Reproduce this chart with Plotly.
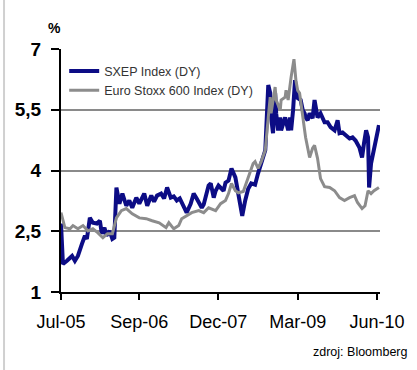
import plotly.graph_objects as go

# ---- data ----
sxep_dates = [
    "2005-07-01", "2005-07-12", "2005-08-04", "2005-09-02", "2005-09-18", "2005-10-05",
    "2005-10-28", "2005-11-14", "2005-11-25", "2005-12-12", "2005-12-29", "2006-01-21",
    "2006-02-07", "2006-02-18", "2006-03-05", "2006-03-16", "2006-04-03", "2006-04-19",
    "2006-04-30", "2006-05-12", "2006-05-29", "2006-06-15", "2006-07-07", "2006-07-24",
    "2006-08-10", "2006-09-02", "2006-09-19", "2006-10-17", "2006-11-03", "2006-11-26",
    "2006-12-12", "2006-12-29", "2007-01-21", "2007-02-07", "2007-02-24", "2007-03-17",
    "2007-04-03", "2007-04-20", "2007-05-07", "2007-05-29", "2007-06-15", "2007-07-08",
    "2007-07-25", "2007-08-11", "2007-09-09", "2007-09-20", "2007-10-07", "2007-10-18",
    "2007-10-30", "2007-11-16", "2007-11-27", "2007-12-13", "2008-01-11", "2008-01-22",
    "2008-02-08", "2008-02-25", "2008-03-18", "2008-04-04", "2008-04-15", "2008-04-26",
    "2008-05-13", "2008-05-30", "2008-06-16", "2008-07-08", "2008-07-25", "2008-08-12",
    "2008-09-04", "2008-09-10", "2008-09-21", "2008-10-02", "2008-10-07", "2008-10-18",
    "2008-10-30", "2008-11-05", "2008-11-16", "2008-11-28", "2008-12-03", "2008-12-26",
    "2009-01-12", "2009-01-23", "2009-01-29", "2009-02-09", "2009-02-20", "2009-02-25",
    "2009-03-07", "2009-03-24", "2009-04-05", "2009-04-16", "2009-04-21", "2009-05-03",
    "2009-05-14", "2009-05-31", "2009-06-11", "2009-06-28", "2009-07-15", "2009-08-07",
    "2009-08-24", "2009-09-10", "2009-10-03", "2009-10-20", "2009-10-31", "2009-11-17",
    "2009-12-04", "2009-12-27", "2010-01-13", "2010-01-30", "2010-02-21", "2010-03-08",
    "2010-03-19", "2010-03-31", "2010-04-11", "2010-04-17", "2010-04-28", "2010-05-15",
    "2010-05-26", "2010-06-12",
]
sxep_values = [
    2.69, 1.69, 1.77, 1.89, 1.77, 1.89,
    2.19, 2.39, 2.31, 2.83, 2.71, 2.69,
    2.76, 2.44, 2.59, 2.39, 2.51, 2.31,
    2.34, 3.58, 3.18, 3.43, 3.13, 3.26,
    3.08, 3.33, 3.18, 3.43, 3.13, 3.38,
    3.23, 3.38, 3.43, 3.31, 3.58, 3.33,
    3.36, 3.26, 3.31, 3.13, 2.96, 3.18,
    3.43, 3.31, 3.08, 3.16, 3.43, 3.63,
    3.68, 3.33, 3.50, 3.63, 3.50, 3.70,
    3.75, 4.05, 3.83, 3.43, 3.08, 2.88,
    3.26, 3.55, 3.68, 3.65, 3.93, 4.20,
    4.50, 5.07, 6.11, 5.91, 5.31, 4.92,
    5.91, 5.41, 4.99, 5.31, 4.99, 5.31,
    4.99, 5.31, 4.99, 5.49, 6.23, 5.98,
    5.79, 5.74, 5.49, 5.41, 5.31, 5.24,
    5.41, 5.29, 5.74, 5.31, 5.41, 5.19,
    5.19, 5.07, 4.99, 5.24, 4.92, 4.94,
    4.87, 4.79, 4.82, 4.74, 4.57, 4.32,
    4.67, 4.99, 4.82, 3.58, 4.17, 4.57,
    4.82, 5.12,
]

stoxx_dates = [
    "2005-07-01", "2005-07-23", "2005-08-21", "2005-09-07", "2005-10-05", "2005-11-03",
    "2005-12-01", "2005-12-29", "2006-01-27", "2006-02-24", "2006-03-22", "2006-04-19",
    "2006-05-12", "2006-06-09", "2006-07-07", "2006-08-10", "2006-09-19", "2006-10-28",
    "2006-12-01", "2007-01-10", "2007-02-18", "2007-03-06", "2007-04-03", "2007-05-01",
    "2007-05-18", "2007-06-15", "2007-07-14", "2007-08-23", "2007-09-20", "2007-10-18",
    "2007-11-27", "2007-12-25", "2008-01-22", "2008-02-08", "2008-02-25", "2008-03-18",
    "2008-04-04", "2008-05-02", "2008-05-19", "2008-06-10", "2008-06-27", "2008-07-08",
    "2008-07-25", "2008-08-12", "2008-09-04", "2008-09-21", "2008-10-02", "2008-10-07",
    "2008-10-30", "2008-11-05", "2008-11-28", "2008-12-03", "2008-12-26", "2008-12-31",
    "2009-01-12", "2009-01-29", "2009-02-14", "2009-02-25", "2009-03-07", "2009-03-18",
    "2009-04-05", "2009-04-21", "2009-05-14", "2009-05-31", "2009-06-11", "2009-06-28",
    "2009-07-15", "2009-08-07", "2009-09-05", "2009-10-03", "2009-10-31", "2009-11-28",
    "2009-12-27", "2010-01-24", "2010-02-10", "2010-03-08", "2010-03-25", "2010-04-11",
    "2010-04-28", "2010-05-15", "2010-06-12",
]
stoxx_values = [
    2.96, 2.59, 2.56, 2.64, 2.56, 2.64,
    2.51, 2.56, 2.46, 2.34, 2.44, 2.44,
    2.83, 3.01, 3.06, 2.93, 2.83, 2.81,
    2.76, 2.71, 2.59, 2.71, 2.56, 2.64,
    2.81, 2.88, 2.96, 3.01, 2.96, 3.08,
    3.01, 3.18, 3.26, 3.43, 3.68, 3.50,
    3.45, 3.48, 3.70, 4.00, 4.17, 4.22,
    4.05, 4.22, 4.50, 5.31, 5.81, 5.41,
    6.06, 5.74, 5.49, 5.74, 5.81, 5.98,
    5.74, 6.31, 6.75, 6.23, 5.98, 5.91,
    5.31, 4.82, 4.32, 4.55, 4.62, 4.30,
    3.80, 3.60, 3.58, 3.50, 3.33, 3.26,
    3.33, 3.38, 3.21, 3.06, 3.13, 3.50,
    3.43, 3.50, 3.58,
]

series_names = ["SXEP Index (DY)", "Euro Stoxx 600 Index (DY)"]
x_tick_dates = ["2005-07-01", "2006-09-19", "2007-12-12", "2009-03-07", "2010-06-01"]
x_tick_labels = ["Jul-05", "Sep-06", "Dec-07", "Mar-09", "Jun-10"]
y_tick_vals = [1, 2.5, 4, 5.5, 7]
y_tick_labels = ["1", "2,5", "4", "5,5", "7"]
source_text = "zdroj: Bloomberg"
unit_text = "%"

FONT = "Liberation Sans, Arial, sans-serif"

fig = go.Figure()
fig.add_trace(go.Scatter(
    x=sxep_dates, y=sxep_values, name=series_names[0], mode="lines",
    line=dict(color="#0c0c85", width=4), hoverinfo="skip",
))
fig.add_trace(go.Scatter(
    x=stoxx_dates, y=stoxx_values, name=series_names[1], mode="lines",
    line=dict(color="#8c8c8c", width=3), hoverinfo="skip",
))

fig.update_layout(
    width=417, height=370,
    margin=dict(l=61, r=34, t=49, b=78),
    paper_bgcolor="white", plot_bgcolor="white",
    font=dict(family=FONT, color="black"),
    showlegend=True,
    legend=dict(
        x=0.01, y=0.97, xanchor="left", yanchor="top",
        bgcolor="rgba(0,0,0,0)", borderwidth=0,
        font=dict(family=FONT, size=12.5, color="#333333"),
        tracegroupgap=0, itemwidth=30,
    ),
    xaxis=dict(
        type="date", range=["2005-07-01", "2010-06-18"],
        tickvals=x_tick_dates, ticktext=x_tick_labels,
        showgrid=False, zeroline=False,
        showline=True, linecolor="black", linewidth=2,
        ticks="outside", ticklen=6, tickwidth=2, tickcolor="black",
        tickfont=dict(family=FONT, size=18, color="black"),
        ticklabelstandoff=6,
    ),
    yaxis=dict(
        range=[1, 7], tickvals=y_tick_vals,
        ticktext=["<b>%s</b>" % t for t in y_tick_labels],
        showgrid=True, gridcolor="#8a8a8a", gridwidth=1.5,
        zeroline=False,
        showline=True, linecolor="black", linewidth=2,
        ticks="outside", ticklen=8, tickwidth=2, tickcolor="black",
        tickfont=dict(family=FONT, size=19, color="black"),
        ticklabelstandoff=6,
    ),
    annotations=[
        dict(text="<b>%s</b>" % unit_text, xref="paper", yref="paper",
             x=-0.02, y=1.085, xanchor="center", yanchor="middle",
             showarrow=False, font=dict(family=FONT, size=14, color="black")),
        dict(text=source_text, xref="paper", yref="paper",
             x=1.095, y=-0.245, xanchor="right", yanchor="middle",
             showarrow=False, font=dict(family=FONT, size=12.5, color="black")),
    ],
    shapes=[
        dict(type="line", xref="paper", yref="paper",
             x0=(3.5 - 61) / 322, x1=(3.5 - 61) / 322, y0=-78 / 243, y1=1 + 49 / 243,
             line=dict(color="#d0d0d0", width=2)),
    ],
)

fig.write_html("out.html")
